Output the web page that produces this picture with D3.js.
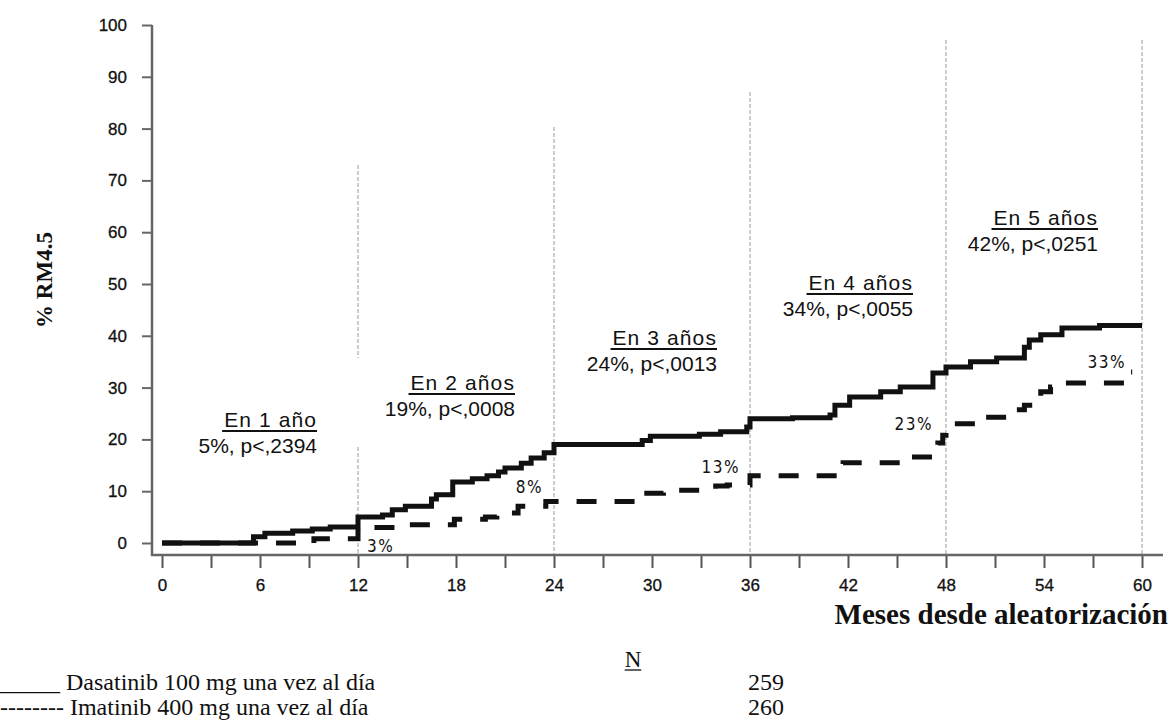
<!DOCTYPE html>
<html>
<head>
<meta charset="utf-8">
<script src="https://cdn.jsdelivr.net/npm/d3@7"></script>
<style>
  html, body { margin: 0; padding: 0; background: #fff; }
  svg { display: block; }
</style>
</head>
<body>
<svg id="chart" width="1171" height="722"></svg>
<script>
// Cumulative incidence of MR4.5 (%), Kaplan-Meier style step data
const dasatinibMonths = [0, 5.6, 6.3, 8.0, 9.2, 10.3, 12.0, 13.5, 14.1, 14.9, 16.5, 16.8, 17.8, 19.0, 19.9, 20.6, 21.0, 22.0, 22.6, 23.4, 24.0, 29.4, 29.9, 32.9, 34.2, 35.8, 36.0, 38.6, 40.9, 41.2, 42.1, 44.0, 45.2, 47.2, 48.0, 49.5, 51.1, 52.8, 53.1, 53.8, 55.1, 57.4, 60.0];
const dasatinibValues = [0, 1.2, 1.9, 2.3, 2.7, 3.1, 5.0, 5.4, 6.4, 7.1, 8.5, 9.3, 11.8, 12.4, 13.0, 13.7, 14.5, 15.4, 16.4, 17.4, 19.0, 19.8, 20.6, 21.0, 21.5, 22.4, 24.0, 24.2, 24.7, 26.6, 28.2, 29.2, 30.1, 32.8, 34.0, 35.0, 35.7, 37.8, 39.2, 40.2, 41.5, 42.0, 42.0];

const imatinibMonths = [0, 9.3, 12.0, 15.0, 17.9, 19.8, 20.5, 21.8, 23.5, 29.4, 30.7, 33.9, 34.6, 36.0, 41.7, 45.6, 47.5, 47.8, 48.0, 49.9, 52.2, 52.8, 53.8, 54.4, 55.3, 59.0, 59.4];
const imatinibValues = [0, 0.8, 3.0, 3.5, 4.6, 5.0, 5.8, 7.1, 8.0, 9.6, 10.2, 11.0, 11.2, 13.0, 15.5, 16.6, 19.3, 20.8, 23.0, 24.3, 25.7, 26.6, 29.2, 30.1, 30.9, 33.0, 33.0];

// Yearly milestones with the reported rates and p-values
const milestoneMonths = [12, 24, 36, 48, 60];
const milestoneTitles = ["En 1 año", "En 2 años", "En 3 años", "En 4 años", "En 5 años"];
const dasatinibAtMilestone = [5, 19, 24, 34, 42];
const imatinibAtMilestone = [3, 8, 13, 23, 33];
const pValues = ["p<,2394", "p<,0008", "p<,0013", "p<,0055", "p<,0251"];

// Axis ticks
const xTicks = d3.range(0, 61, 3);
const xTickLabels = d3.range(0, 61, 6);
const yTicks = d3.range(0, 101, 10);

// Legend
const seriesNames = ["Dasatinib 100 mg una vez al día", "Imatinib 400 mg una vez al día"];
const seriesN = [259, 260];

const svg = d3.select("#chart");

const x = d3.scaleLinear().domain([0, 60]).range([162, 1142]);
const y = d3.scaleLinear().domain([0, 100]).range([543, 25]);
const axisY0 = 555;   // baseline of the x axis
const axisX0 = 152;   // position of the y axis

const sansTick = "'Liberation Sans', Arial, sans-serif";
const serif = "'Liberation Serif', 'Times New Roman', serif";

// Vertical reference lines at each year
const refTop = [165, 127, 92, 40, 40];
const refGroup = svg.append("g");
milestoneMonths.forEach((m, i) => {
  const segs = i === 0 ? [[refTop[i], 358], [447, axisY0]] : [[refTop[i], axisY0]];
  segs.forEach(s => {
    refGroup.append("line")
      .attr("x1", x(m)).attr("x2", x(m))
      .attr("y1", s[0]).attr("y2", s[1])
      .attr("stroke", "#9a9a9a")
      .attr("stroke-width", 1)
      .attr("stroke-dasharray", "4,2");
  });
});

// Y axis
const yAxis = d3.axisLeft(y).tickValues(yTicks).tickSize(10).tickPadding(15).tickFormat(d3.format("d"));
const gy = svg.append("g").attr("transform", `translate(${axisX0},0)`).call(yAxis);
gy.select(".domain").remove();
gy.append("line").attr("x1", 0).attr("x2", 0).attr("y1", y(100)).attr("y2", axisY0 + 1)
  .attr("stroke", "#666").attr("stroke-width", 2.5);
gy.selectAll(".tick line").attr("stroke", "#666").attr("stroke-width", 2);
gy.selectAll(".tick text").attr("font-family", sansTick).attr("font-size", 17)
  .attr("fill", "#111").attr("stroke", "#111").attr("stroke-width", 0.3);

// X axis
const xAxis = d3.axisBottom(x).tickValues(xTicks).tickSize(13).tickPadding(11)
  .tickFormat(d => xTickLabels.includes(d) ? d : "");
const gx = svg.append("g").attr("transform", `translate(0,${axisY0})`).call(xAxis);
gx.select(".domain").remove();
gx.append("line").attr("x1", axisX0 - 1).attr("x2", 1163).attr("y1", 0).attr("y2", 0)
  .attr("stroke", "#666").attr("stroke-width", 2.5);
gx.selectAll(".tick line").attr("stroke", "#555").attr("stroke-width", 2);
gx.selectAll(".tick text").attr("font-family", sansTick).attr("font-size", 17)
  .attr("fill", "#111").attr("stroke", "#111").attr("stroke-width", 0.3);

// Curves
const line = d3.line().x(d => x(d[0])).y(d => y(d[1])).curve(d3.curveStepAfter);
const dasaData = d3.zip(dasatinibMonths, dasatinibValues);
const imaData = d3.zip(imatinibMonths, imatinibValues);

svg.append("path").datum(imaData).attr("d", line)
  .attr("fill", "none").attr("stroke", "#111").attr("stroke-width", 5)
  .attr("stroke-dasharray", "20,18");
svg.append("path").datum(dasaData).attr("d", line)
  .attr("fill", "none").attr("stroke", "#111").attr("stroke-width", 5);

// Imatinib rate labels near the dashed curve
const pctLayout = [[9, 552, "start"], [-11, 493, "end"], [-10, 473, "end"], [-13, 430, "end"], [-16, 368, "end"]];
milestoneMonths.forEach((m, i) => {
  svg.append("text")
    .attr("x", x(m) + pctLayout[i][0]).attr("y", pctLayout[i][1])
    .attr("text-anchor", pctLayout[i][2])
    .attr("font-family", "'Liberation Sans Narrow', 'DejaVu Sans Condensed', sans-serif")
    .attr("font-size", 17).attr("letter-spacing", 1.5).attr("fill", "#111")
    .text(imatinibAtMilestone[i] + "%");
});

// Milestone annotation blocks
const blockLayout = [[-41, 427], [-39, 390], [-33, 345], [-33, 290], [-44, 225]];
milestoneMonths.forEach((m, i) => {
  const rx = x(m) + blockLayout[i][0];
  const by = blockLayout[i][1];
  const t = svg.append("text")
    .attr("x", rx).attr("y", by).attr("text-anchor", "end")
    .attr("font-family", "'Liberation Sans', Arial, sans-serif")
    .attr("font-size", 21).attr("letter-spacing", 1.1).attr("fill", "#111")
    .text(milestoneTitles[i]);
  const w = t.node().getComputedTextLength();
  svg.append("line")
    .attr("x1", rx - w - 2).attr("x2", rx)
    .attr("y1", by + 4).attr("y2", by + 4)
    .attr("stroke", "#111").attr("stroke-width", 1.8);
  svg.append("text")
    .attr("x", rx).attr("y", by + 26).attr("text-anchor", "end")
    .attr("font-family", "'Liberation Sans', Arial, sans-serif")
    .attr("font-size", 21).attr("fill", "#111")
    .text(`${dasatinibAtMilestone[i]}%, ${pValues[i]}`);
});

// Axis titles
svg.append("text")
  .attr("transform", "translate(52,280) rotate(-90)")
  .attr("text-anchor", "middle")
  .attr("font-family", serif).attr("font-weight", "bold").attr("font-size", 23)
  .attr("fill", "#111")
  .text("% RM4.5");

svg.append("text")
  .attr("x", 1168).attr("y", 624).attr("text-anchor", "end")
  .attr("font-family", serif).attr("font-weight", "bold").attr("font-size", 29)
  .attr("fill", "#111")
  .text("Meses desde aleatorización");

// Number-at-risk header
const nText = svg.append("text")
  .attr("x", 633).attr("y", 667).attr("text-anchor", "middle")
  .attr("font-family", serif).attr("font-size", 23).attr("fill", "#111")
  .text("N");
const nw = nText.node().getComputedTextLength();
svg.append("line").attr("x1", 633 - nw / 2).attr("x2", 633 + nw / 2)
  .attr("y1", 670).attr("y2", 670).attr("stroke", "#111").attr("stroke-width", 1.3);

// Legend
const legendMarks = ["_____", "--------"];
const legendBase = [690, 715];
seriesNames.forEach((name, i) => {
  svg.append("text")
    .attr("x", 0).attr("y", legendBase[i])
    .attr("font-family", serif).attr("font-size", 24).attr("fill", "#111")
    .text(`${legendMarks[i]} ${name}`);
  svg.append("text")
    .attr("x", 748).attr("y", legendBase[i])
    .attr("font-family", serif).attr("font-size", 24).attr("fill", "#111")
    .text(seriesN[i]);
});
</script>
</body>
</html>
